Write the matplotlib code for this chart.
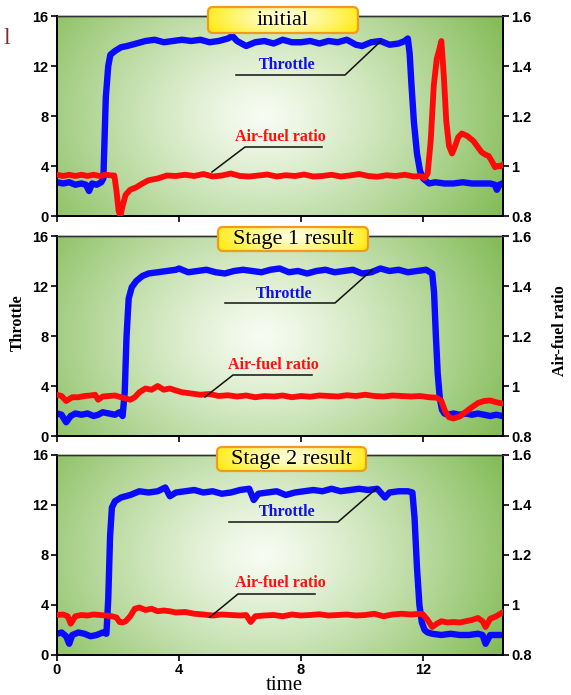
import numpy as np
import matplotlib
matplotlib.use("Agg")
import matplotlib.pyplot as plt
from matplotlib.patches import FancyBboxPatch
from matplotlib.lines import Line2D

# ---------------- data ----------------
titles = ["initial", "Stage 1 result", "Stage 2 result"]
x_ticks = [0, 4, 8, 12]
left_ticks = [0, 4, 8, 12, 16]
right_ticks = [0.8, 1.0, 1.2, 1.4, 1.6]
right_tick_labels = ["0.8", "1", "1.2", "1.4", "1.6"]

# panel 1 (initial)
t1_thr = [0.0, 0.2, 0.4, 0.6, 0.8, 0.95, 1.05, 1.15, 1.3, 1.45, 1.52, 1.6, 1.68, 1.75, 1.9, 2.1, 2.3, 2.6,
          2.9, 3.2, 3.5, 3.8, 4.1, 4.4, 4.7, 5.0, 5.3, 5.6, 5.75, 5.9, 6.2, 6.5, 6.8, 7.1, 7.4, 7.7, 8.0,
          8.3, 8.6, 8.9, 9.2, 9.5, 9.8, 10.0, 10.3, 10.6, 10.9, 11.2, 11.4, 11.5, 11.56, 11.62, 11.7, 11.8,
          11.9, 12.0, 12.1, 12.2, 12.4, 12.7, 13.0, 13.3, 13.6, 13.9, 14.2, 14.35, 14.42, 14.5, 14.6]
v1_thr = [2.7, 2.6, 2.7, 2.5, 2.6, 2.5, 2.0, 2.6, 2.5, 2.7, 3.0, 9.5, 12.0, 12.9, 13.2, 13.5, 13.6, 13.8,
          14.0, 14.1, 13.9, 14.0, 14.1, 14.0, 14.1, 13.9, 14.0, 14.2, 14.4, 14.0, 13.6, 13.9, 14.0, 13.8,
          14.1, 13.9, 13.9, 14.0, 13.8, 14.0, 13.9, 14.1, 13.7, 13.6, 13.9, 14.0, 13.7, 13.8, 14.0, 14.2,
          13.0, 10.5, 7.5, 5.0, 3.6, 3.0, 2.8, 2.6, 2.7, 2.6, 2.6, 2.7, 2.6, 2.6, 2.6, 2.5, 2.1, 2.5, 2.6]
t1_afr = [0.0, 0.2, 0.4, 0.6, 0.8, 1.0, 1.2, 1.4, 1.6, 1.8, 1.88, 1.95, 2.02, 2.08, 2.15, 2.25, 2.4, 2.6,
          2.8, 3.0, 3.3, 3.6, 3.9, 4.2, 4.5, 4.8, 5.1, 5.4, 5.7, 6.0, 6.3, 6.6, 6.9, 7.2, 7.5, 7.8, 8.1,
          8.4, 8.7, 9.0, 9.3, 9.6, 9.9, 10.2, 10.5, 10.8, 11.1, 11.4, 11.7, 11.9, 12.05, 12.15, 12.25,
          12.35, 12.45, 12.52, 12.6, 12.68, 12.76, 12.85, 12.95, 13.05, 13.15, 13.27, 13.45, 13.65, 13.8,
          13.92, 14.05, 14.15, 14.25, 14.36, 14.45, 14.52, 14.6]
v1_afr = [0.965, 0.96, 0.965, 0.96, 0.965, 0.96, 0.965, 0.96, 0.965, 0.962, 0.962, 0.90, 0.82, 0.80,
          0.84, 0.885, 0.905, 0.915, 0.93, 0.943, 0.95, 0.962, 0.96, 0.965, 0.96, 0.968, 0.958, 0.962,
          0.97, 0.96, 0.958, 0.962, 0.966, 0.958, 0.963, 0.96, 0.966, 0.958, 0.96, 0.965, 0.958, 0.962,
          0.968, 0.96, 0.957, 0.963, 0.96, 0.965, 0.958, 0.96, 0.952, 0.97, 1.10, 1.32, 1.43, 1.46, 1.50,
          1.36, 1.18, 1.08, 1.05, 1.08, 1.115, 1.13, 1.12, 1.10, 1.075, 1.055, 1.045, 1.04, 1.02, 0.995,
          1.0, 0.998, 1.005]

# panel 2 (stage 1 result)
t2_thr = [0.0, 0.15, 0.3, 0.45, 0.6, 0.8, 1.0, 1.2, 1.35, 1.5, 1.7, 1.9, 2.05, 2.15, 2.22, 2.28, 2.35,
          2.45, 2.6, 2.8, 3.0, 3.3, 3.6, 3.9, 4.0, 4.3, 4.6, 4.9, 5.2, 5.5, 5.8, 6.1, 6.4, 6.7, 7.0, 7.3,
          7.6, 7.9, 8.2, 8.5, 8.8, 9.1, 9.4, 9.7, 10.0, 10.3, 10.6, 10.9, 11.2, 11.5, 11.8, 12.1, 12.3,
          12.36, 12.42, 12.48, 12.55, 12.62, 12.7, 12.8, 13.0, 13.2, 13.4, 13.6, 13.8, 14.0, 14.2, 14.4, 14.6]
v2_thr = [1.8, 1.7, 1.1, 1.6, 1.8, 1.7, 1.8, 1.6, 1.7, 1.9, 1.8, 1.7, 1.9, 1.6, 3.5, 8.0, 11.0, 11.9,
          12.4, 12.8, 13.0, 13.1, 13.2, 13.3, 13.4, 13.1, 13.2, 13.3, 13.1, 13.0, 13.2, 13.3, 13.2, 13.1,
          13.3, 13.4, 13.1, 13.2, 13.0, 13.2, 13.3, 13.1, 13.2, 13.3, 13.0, 13.1, 13.4, 13.2, 13.3, 13.1,
          13.2, 13.3, 13.0, 11.5, 8.0, 5.0, 3.0, 2.1, 1.8, 1.7, 1.8, 1.7, 1.8, 1.7, 1.8, 1.7, 1.6, 1.7, 1.6]
t2_afr = [0.0, 0.15, 0.3, 0.5, 0.7, 0.9, 1.1, 1.25, 1.35, 1.5, 1.7, 1.9, 2.1, 2.25, 2.4, 2.55, 2.7, 2.9,
          3.1, 3.3, 3.5, 3.7, 3.9, 4.1, 4.4, 4.7, 5.0, 5.3, 5.6, 5.9, 6.2, 6.5, 6.8, 7.1, 7.4, 7.7, 8.0,
          8.3, 8.6, 8.9, 9.2, 9.5, 9.8, 10.1, 10.4, 10.7, 11.0, 11.3, 11.6, 11.9, 12.2, 12.45, 12.6, 12.72,
          12.85, 13.0, 13.2, 13.4, 13.6, 13.8, 14.0, 14.2, 14.4, 14.6]
v2_afr = [0.965, 0.96, 0.94, 0.955, 0.955, 0.96, 0.962, 0.965, 0.945, 0.958, 0.96, 0.962, 0.955, 0.95,
          0.945, 0.955, 0.975, 0.99, 0.985, 1.0, 0.985, 0.99, 0.982, 0.975, 0.97, 0.965, 0.968, 0.96,
          0.963, 0.958, 0.962, 0.955, 0.96, 0.958, 0.962, 0.955, 0.96, 0.957, 0.962, 0.96, 0.958, 0.963,
          0.96, 0.965, 0.96, 0.958, 0.962, 0.96, 0.958, 0.96, 0.955, 0.953, 0.94, 0.90, 0.875, 0.87,
          0.878, 0.897, 0.915, 0.932, 0.94, 0.942, 0.935, 0.93]

# panel 3 (stage 2 result)
t3_thr = [0.0, 0.15, 0.3, 0.4, 0.5, 0.7, 0.9, 1.1, 1.3, 1.5, 1.62, 1.68, 1.74, 1.8, 1.9, 2.1, 2.4, 2.7,
          3.0, 3.3, 3.55, 3.7, 3.9, 4.2, 4.5, 4.8, 5.1, 5.4, 5.7, 6.0, 6.3, 6.45, 6.6, 6.9, 7.2, 7.5, 7.8,
          8.1, 8.4, 8.7, 9.0, 9.3, 9.6, 9.9, 10.2, 10.5, 10.75, 10.9, 11.2, 11.5, 11.65, 11.72, 11.8,
          11.88, 11.96, 12.05, 12.15, 12.3, 12.6, 12.9, 13.2, 13.5, 13.8, 13.95, 14.05, 14.2, 14.4, 14.6]
v3_thr = [1.7, 1.8, 1.5, 0.9, 1.6, 1.8, 1.7, 1.5, 1.6, 1.8, 1.7, 4.5, 9.5, 11.8, 12.3, 12.6, 12.8, 13.1,
          13.0, 13.1, 13.4, 12.7, 13.0, 13.1, 13.2, 13.0, 13.1, 12.9, 13.0, 13.2, 13.3, 12.4, 12.9, 13.0,
          13.1, 12.8, 13.0, 13.1, 13.2, 13.1, 13.3, 13.1, 13.2, 13.3, 13.2, 13.3, 12.6, 13.0, 13.1, 13.1,
          13.0, 11.0, 7.0, 4.0, 2.6, 2.0, 1.8, 1.7, 1.6, 1.7, 1.6, 1.6, 1.7, 1.6, 0.9, 1.6, 1.6, 1.6]
t3_afr = [0.0, 0.2, 0.35, 0.45, 0.6, 0.8, 1.0, 1.2, 1.4, 1.6, 1.8, 1.95, 2.05, 2.15, 2.25, 2.4, 2.55, 2.7,
          2.9, 3.1, 3.3, 3.5, 3.7, 3.9, 4.2, 4.5, 4.8, 5.1, 5.4, 5.7, 6.0, 6.2, 6.35, 6.5, 6.8, 7.1, 7.4,
          7.7, 8.0, 8.3, 8.6, 8.9, 9.2, 9.5, 9.8, 10.1, 10.4, 10.7, 11.0, 11.3, 11.6, 11.9, 12.0, 12.15,
          12.3, 12.45, 12.6, 12.8, 13.0, 13.2, 13.4, 13.6, 13.8, 13.95, 14.05, 14.2, 14.4, 14.6]
v3_afr = [0.96, 0.962, 0.955, 0.925, 0.955, 0.96, 0.958, 0.962, 0.96, 0.958, 0.955, 0.95, 0.932, 0.93,
          0.935, 0.955, 0.985, 0.99, 0.98, 0.985, 0.975, 0.978, 0.975, 0.97, 0.972, 0.965, 0.962, 0.958,
          0.962, 0.96, 0.958, 0.96, 0.932, 0.955, 0.958, 0.96, 0.955, 0.962, 0.958, 0.96, 0.963, 0.958,
          0.96, 0.962, 0.958, 0.96, 0.965, 0.955, 0.962, 0.965, 0.962, 0.965, 0.962, 0.94, 0.912, 0.925,
          0.935, 0.93, 0.932, 0.93, 0.935, 0.94, 0.948, 0.935, 0.912, 0.945, 0.955, 0.97]

throttle_t = [t1_thr, t2_thr, t3_thr]
throttle_v = [v1_thr, v2_thr, v3_thr]
afr_t = [t1_afr, t2_afr, t3_afr]
afr_v = [v1_afr, v2_afr, v3_afr]

# ---------------- layout (pixels) ----------------
W, H = 571, 695
SERIF = ["Liberation Serif", "DejaVu Serif"]
SANS = ["Liberation Sans", "DejaVu Sans"]

fig = plt.figure(figsize=(W / 100, H / 100), dpi=100)
fig.patch.set_facecolor("white")


def fx(x):
    return x / W


def fy(y):
    return 1 - y / H


ax_left, ax_right = 57, 503
panel_rows = [(16, 216), (236, 436), (455, 655)]
title_boxes = [(208, 7, 358, 33), (218, 227, 368, 251), (217, 447, 366, 471)]
thr_text = [(287, 65), (284, 294), (287, 512)]
thr_lines = [[(236, 75), (345, 75), (381, 41)],
             [(225, 303), (335, 303), (372, 270)],
             [(229, 522), (338, 522), (377, 488)]]
afr_text = [(280, 137), (273, 365), (280, 583)]
afr_lines = [[(212, 172), (245, 147), (322, 147)],
             [(205, 397), (233, 375), (312, 375)],
             [(210, 617), (238, 594), (315, 594)]]

# background gradient image
gy, gx = np.mgrid[0:1:200j, 0:1:400j]
r = np.sqrt(((gx - 0.46) / 0.6) ** 2 + ((gy - 0.5) / 1.0) ** 2)
r = np.clip(r, 0, 1) ** 1.2
c_center = np.array([0.97, 0.99, 0.95])
c_edge = np.array([0.52, 0.74, 0.35])
bg = c_center + (c_edge - c_center) * r[..., None]

for i, (top, bot) in enumerate(panel_rows):
    ax = fig.add_axes([fx(ax_left), fy(bot), (ax_right - ax_left) / W, (bot - top) / H])
    ax.imshow(bg, extent=[0, 1, 0, 1], transform=ax.transAxes, aspect="auto",
              origin="lower", zorder=0, interpolation="bilinear")
    ax.plot(throttle_t[i], throttle_v[i], color="#0a0aff", lw=4.6, solid_joinstyle="round", zorder=3)
    ax.set_xlim(0, 14.62)
    ax.set_ylim(0, 16)
    ax.set_yticks(left_ticks)
    ax.set_yticklabels([str(v) for v in left_ticks], fontfamily=SANS, fontweight="bold", fontsize=10.5)
    ax.set_xticks(x_ticks)
    if i == 2:
        ax.set_xticklabels([str(v) for v in x_ticks], fontfamily=SANS, fontweight="bold", fontsize=10.5)
    else:
        ax.set_xticklabels([])
    ax.tick_params(direction="out", length=4, width=1.2, pad=2, colors="black")

    ax2 = ax.twinx()
    ax2.plot(afr_t[i], afr_v[i], color="#ff0a0a", lw=4.2, solid_joinstyle="round", zorder=3)
    ax2.set_ylim(0.8, 1.6)
    ax2.set_yticks(right_ticks)
    ax2.set_yticklabels(right_tick_labels, fontfamily=SANS, fontweight="bold", fontsize=10.5)
    ax2.tick_params(direction="out", length=4, width=1.2, pad=2)

    for a in (ax, ax2):
        for s in ("left", "bottom", "right"):
            a.spines[s].set_linewidth(1.3)
            a.spines[s].set_color("black")
        a.spines["top"].set_linewidth(1.0)
        a.spines["top"].set_color("#333333")

    # title box with yellow gradient
    x0, y0, x1, y1 = title_boxes[i]
    bw, bh = x1 - x0, y1 - y0
    bax = fig.add_axes([fx(x0 - 2), fy(y1 + 2), (bw + 4) / W, (bh + 4) / H])
    bax.set_axis_off()
    bax.set_xlim(-2, bw + 2)
    bax.set_ylim(-2, bh + 2)
    hy, hx = np.mgrid[0:1:40j, 0:1:200j]
    d = np.sqrt(((hx - 0.5) / 0.55) ** 2 + ((hy - 0.62) / 1.1) ** 2)
    d = np.clip(d, 0, 1) ** 1.3
    pale = np.array([1.0, 1.0, 0.86])
    yel = np.array([1.0, 0.92, 0.05])
    yimg = pale + (yel - pale) * d[..., None]
    im = bax.imshow(yimg, extent=[0, bw, 0, bh], aspect="auto", origin="lower", zorder=1)
    clip = FancyBboxPatch((0, 0), bw, bh, boxstyle="round,pad=0,rounding_size=5",
                          facecolor="none", edgecolor="none", transform=bax.transData)
    bax.add_patch(clip)
    im.set_clip_path(clip)
    border = FancyBboxPatch((0, 0), bw, bh, boxstyle="round,pad=0,rounding_size=5",
                            facecolor="none", edgecolor="#f39a1e", lw=1.6, zorder=2)
    bax.add_patch(border)
    bax.text(bw / 2, bh / 2 - 0.5, titles[i], ha="center", va="center", fontsize=16,
             fontfamily=SERIF, color="black", zorder=3)

    # annotations
    tx, ty = thr_text[i]
    fig.text(fx(tx), fy(ty), "Throttle", ha="center", va="center", fontsize=11.5,
             fontfamily=SERIF, fontweight="bold", color="#1010ee")
    xs = [fx(p[0]) for p in thr_lines[i]]
    ys = [fy(p[1]) for p in thr_lines[i]]
    fig.add_artist(Line2D(xs, ys, color="#111111", lw=1.1, transform=fig.transFigure))
    tx, ty = afr_text[i]
    fig.text(fx(tx), fy(ty), "Air-fuel ratio", ha="center", va="center", fontsize=11.5,
             fontfamily=SERIF, fontweight="bold", color="#ff1010")
    xs = [fx(p[0]) for p in afr_lines[i]]
    ys = [fy(p[1]) for p in afr_lines[i]]
    fig.add_artist(Line2D(xs, ys, color="#111111", lw=1.1, transform=fig.transFigure))

# axis labels
fig.text(fx(18), fy(323), "Throttle", rotation=90, ha="center", va="center", fontsize=11.5,
         fontfamily=SERIF, fontweight="bold", color="black")
fig.text(fx(560), fy(331), "Air-fuel ratio", rotation=90, ha="center", va="center", fontsize=11.5,
         fontfamily=SERIF, fontweight="bold", color="black")
fig.text(fx(284), fy(686), "time", ha="center", va="center", fontsize=15,
         fontfamily=SERIF, color="black")
fig.text(fx(3), fy(38), "l", ha="left", va="center", fontsize=17,
         fontfamily=SERIF, color="#7b2d2d")

fig.savefig("out.png", dpi=100)
